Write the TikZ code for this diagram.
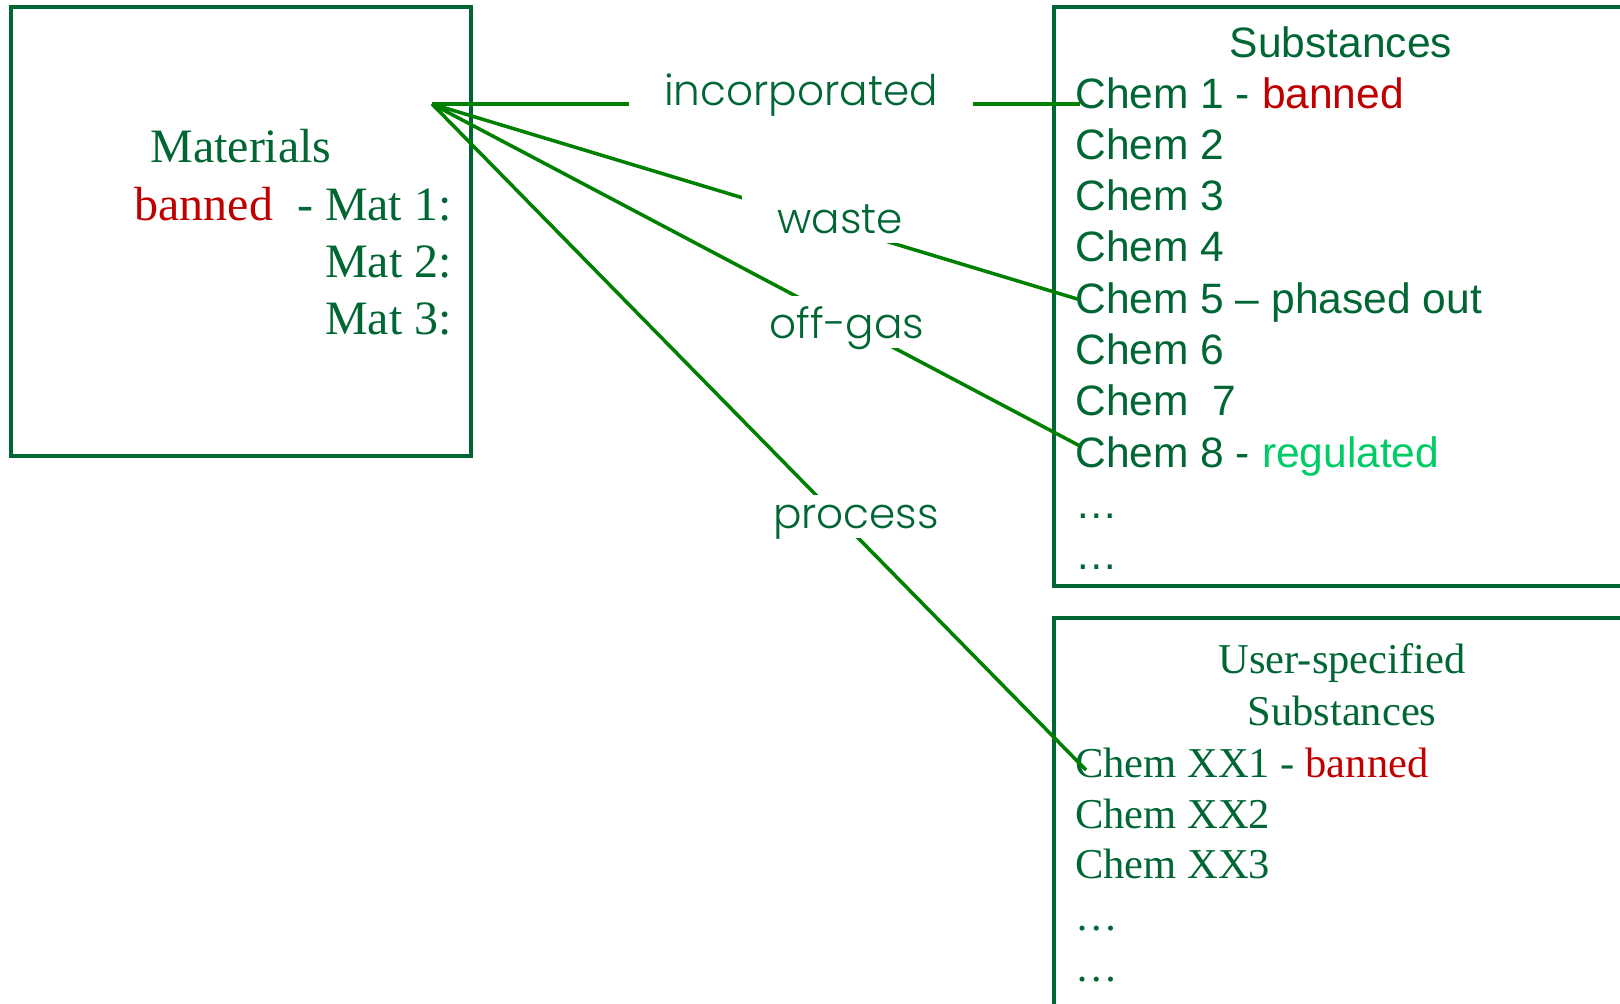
\documentclass[tikz,border=0pt]{standalone}
\usepackage{fontspec}
\setmainfont{Liberation Serif}
\newfontfamily\arialfont{Liberation Sans}
\newfontfamily\gothicfont{Poppins Light}
\usepackage{xcolor}
\usepackage{tikz}
\usetikzlibrary{calc}

\definecolor{txtgreen}{RGB}{0,102,51}
\definecolor{linkgreen}{RGB}{0,128,0}
\definecolor{banred}{RGB}{192,0,0}
\definecolor{reggreen}{RGB}{0,204,102}

\tikzset{boxframe/.style={draw=txtgreen, line width=1.8pt},
link/.style={draw=linkgreen, line width=2pt},
%pixel sized text lines
matline/.style={text=txtgreen, inner sep=0pt, font=\fontsize{27.3}{32}\selectfont},
chem/.style={text=txtgreen, inner sep=0pt, anchor=base west, font=\arialfont\fontsize{24.2}{29}\selectfont},
xxchem/.style={text=txtgreen, inner sep=0pt, anchor=base west, font=\fontsize{24.2}{29}\selectfont},
flowlabel/.style={fill=white, text=txtgreen, inner xsep=0.7cm, inner ysep=0.2cm, text depth=0pt, anchor=base, font=\gothicfont\fontsize{24}{29}\selectfont}}

\begin{document}
\begin{tikzpicture}[x=0.02cm, y=-0.02cm]
 \useasboundingbox (0,0) rectangle (1620,1004);
 \clip (0,0) rectangle (1620,1004);

 %Drawing Boxes
 \draw[boxframe] (11,7) rectangle (471,456);
 \draw[boxframe] (1054,7) rectangle (1660,586);
 \draw[boxframe] (1054,618) rectangle (1660,1040);

 %Materials text
 \node (mattitle) [matline, anchor=base] at (241,162) {Materials};
 \node (mat1) [matline, anchor=base east] at (452,220) {\textcolor{banred}{banned}\ \ - Mat 1:};
 \node (mat2) [matline, anchor=base east] at (452,277) {Mat 2:};
 \node (mat3) [matline, anchor=base east] at (452,334) {Mat 3:};

 %Substances list
 \node (subtitle) [chem, anchor=base] at (1341,57) {Substances};
 \node (c1) [chem] at (1075,108) {Chem 1 - \textcolor{banred}{banned}};
 \node (c2) [chem] at (1075,159.3) {Chem 2};
 \node (c3) [chem] at (1075,210.6) {Chem 3};
 \node (c4) [chem] at (1075,261.9) {Chem 4};
 \node (c5) [chem] at (1075,313.2) {Chem 5 – phased out};
 \node (c6) [chem] at (1075,364.5) {Chem 6};
 \node (c7) [chem] at (1075,415.8) {Chem\ \ 7};
 \node (c8) [chem] at (1075,467) {Chem 8 - \textcolor{reggreen}{regulated}};
 \node (cdots1) [chem] at (1075,518) {…};
 \node (cdots2) [chem] at (1075,569) {…};

 %User-specified list
 \node (usertitle1) [xxchem, anchor=base] at (1342,673) {User-specified};
 \node (usertitle2) [xxchem, anchor=base] at (1342,725) {Substances};
 \node (xx1) [xxchem] at (1075,777) {Chem XX1 - \textcolor{banred}{banned}};
 \node (xx2) [xxchem] at (1075,828) {Chem XX2};
 \node (xx3) [xxchem] at (1075,878) {Chem XX3};
 \node (xxdots1) [xxchem] at (1075,930) {…};
 \node (xxdots2) [xxchem] at (1075,981) {…};

 %Drawing links from materials
 \coordinate (hub) at (432,104);
 \draw[link] (hub) -- ([shift={(5,-4)}]c1.base west);
 \draw[link] (hub) -- ([shift={(3,-14)}]c5.base west);
 \draw[link] (hub) -- ([shift={(5,-21)}]c8.base west);
 \draw[link] (hub) -- ([shift={(11,-7)}]xx1.base west);

 %Link labels
 \node (lincorp) [flowlabel] at (801,105) {incorporated};
 \node (lwaste) [flowlabel] at (840,233) {waste};
 \node (loffgas) [flowlabel] at (847,338) {off-gas};
 \node (lprocess) [flowlabel] at (856,528) {process};
\end{tikzpicture}
\end{document}
